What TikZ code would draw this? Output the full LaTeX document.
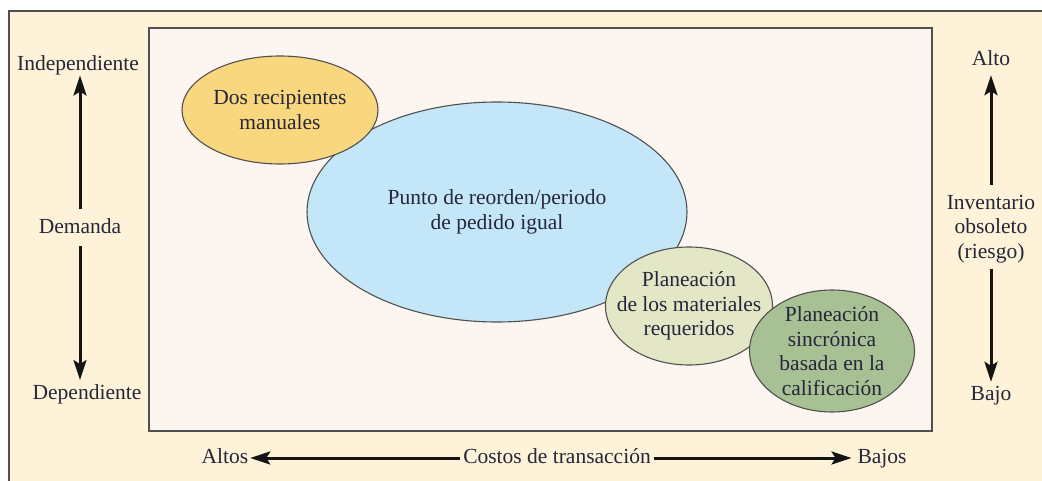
\documentclass[tikz,border=0pt]{standalone}
\usepackage{fontspec}
\setmainfont{Liberation Serif}
\usetikzlibrary{shapes.geometric,arrows.meta}
\definecolor{outerfill}{HTML}{FEF3D8}
\definecolor{innerfill}{HTML}{FDF5EF}
\definecolor{framecol}{HTML}{505050}
\definecolor{yellowfill}{HTML}{F9D77E}
\definecolor{bluefill}{HTML}{C3E7F8}
\definecolor{lgreenfill}{HTML}{E3E7C6}
\definecolor{dgreenfill}{HTML}{A8C194}
\definecolor{txt}{HTML}{26263A}
\tikzset{
  lbl/.style={font=\fontsize{21.5}{24.5}\selectfont, text=txt, align=center, inner sep=0pt, outer sep=0pt},
  blob/.style={ellipse, draw=framecol, line width=1.1pt, inner sep=0pt},
  axis/.style={line width=3pt, -{Stealth[length=20pt,width=13pt,inset=4pt]}, draw=black!92},
}
\begin{document}
\begin{tikzpicture}[x=1pt,y=-1pt]
\useasboundingbox (0,0) rectangle (1042,481);
\begin{scope}
\clip (0,0) rectangle (1042,481);
\draw[framecol, fill=outerfill, line width=1.2pt] (9,11) rectangle (1060,500);
\end{scope}
\draw[framecol, fill=innerfill, line width=1.4pt] (149,28) rectangle (932,431);
% ellipses
\node[blob, fill=bluefill, minimum width=380pt, minimum height=220pt] (blue) at (497,212) {};
\node[lbl] (bluet) at (blue.center) {Punto de reorden/periodo\\de pedido igual};
\node[blob, fill=yellowfill, minimum width=196pt, minimum height=108pt] (yel) at (280,110) {};
\node[lbl] (yelt) at (yel.center) {Dos recipientes\\manuales};
\node[blob, fill=lgreenfill, minimum width=167pt, minimum height=118pt] (lg) at (689,306) {};
\node[lbl] (lgt) at (lg.center) {Planeación\\de los materiales\\requeridos};
\node[blob, fill=dgreenfill, minimum width=165pt, minimum height=122pt] (dg) at (832,351) {};
\node[lbl] (dgt) at (dg.center) {Planeación\\sincrónica\\basada en la\\calificación};
% left axis
\node[lbl, anchor=base] (ind) at (78,71) {Independiente};
\node[lbl, anchor=base] (dem) at (80,234) {Demanda};
\node[lbl, anchor=base] (dep) at (87,399) {Dependiente};
\draw[axis] ([yshift=10pt]dem.north) -- (dem |- ind.south);
\draw[axis] ([yshift=-12pt]dem.south) -- ([yshift=4pt]dem |- dep.north);
% right axis
\node[lbl, anchor=base] (alto) at (991,66) {Alto};
\node[lbl] (inv) at (991,229) {Inventario\\obsoleto\\(riesgo)};
\node[lbl, anchor=base] (bajo) at (991,400) {Bajo};
\draw[axis] ([yshift=10pt]inv.north) -- ([yshift=-9pt]alto.south);
\draw[axis] ([yshift=-6pt]inv.south) -- ([yshift=4pt]bajo.north);
% bottom axis
\node[lbl, anchor=base] (altos) at (225,463) {Altos};
\node[lbl, anchor=base] (costos) at (557,463) {Costos de transacción};
\node[lbl, anchor=base] (bajos) at (882,463) {Bajos};
\draw[axis] ([xshift=-3pt,yshift=5pt]costos.base west) -- ([xshift=2pt,yshift=5pt]altos.base east);
\draw[axis] ([xshift=3pt,yshift=5pt]costos.base east) -- ([xshift=-6pt,yshift=5pt]bajos.base west);
\end{tikzpicture}
\end{document}
